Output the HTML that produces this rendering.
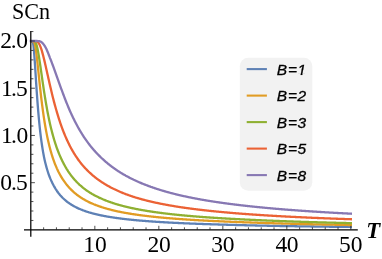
<!DOCTYPE html>
<html><head><meta charset="utf-8"><style>
html,body{margin:0;padding:0;background:#fff;}
body{width:382px;height:259px;position:relative;overflow:hidden;font-family:"Liberation Sans",sans-serif;}
</style></head><body>
<svg width="382" height="259" viewBox="0 0 382 259" style="position:absolute;left:0;top:0;will-change:transform">
<rect x="239.8" y="57.8" width="72.5" height="133" rx="8.5" ry="8.5" fill="#F2F2F2"/>
<clipPath id="cl"><rect x="0" y="40.7" width="382" height="219"/></clipPath>
<path d="M30.83 41.00 L31.36 41.00 L31.90 41.01 L32.43 41.24 L32.96 42.59 L33.50 45.94 L34.03 51.38 L34.56 58.42 L35.10 66.41 L35.63 74.76 L36.16 83.07 L36.70 91.07 L37.23 98.63 L37.76 105.68 L38.30 112.20 L38.83 118.22 L39.36 123.76 L39.90 128.86 L40.43 133.54 L40.96 137.86 L41.50 141.85 L42.03 145.53 L42.56 148.94 L43.10 152.10 L43.63 155.04 L44.16 157.67 L44.70 160.13 L45.23 162.43 L45.76 164.58 L46.30 166.60 L46.83 168.50 L47.36 170.29 L47.90 171.98 L48.43 173.57 L48.96 175.07 L49.50 176.50 L50.03 177.85 L50.56 179.13 L51.10 180.35 L51.63 181.51 L52.16 182.61 L52.70 183.67 L53.23 184.67 L53.76 185.69 L54.30 186.67 L54.83 187.60 L55.36 188.50 L55.90 189.36 L56.43 190.18 L56.96 190.98 L57.50 191.74 L58.03 192.47 L58.56 193.18 L59.10 193.86 L59.63 194.51 L60.16 195.14 L60.70 195.75 L61.23 196.34 L61.76 196.91 L62.30 197.46 L62.83 198.00 L63.36 198.51 L63.90 199.02 L64.43 199.50 L64.96 199.97 L65.50 200.43 L66.03 200.87 L66.56 201.30 L67.10 201.72 L67.63 202.13 L68.16 202.52 L68.70 202.91 L69.23 203.28 L69.76 203.64 L70.30 204.00 L70.83 204.34 L71.36 204.67 L71.90 205.00 L72.43 205.32 L72.96 205.63 L73.50 205.93 L74.03 206.23 L74.56 206.52 L75.10 206.80 L75.63 207.07 L76.16 207.34 L76.70 207.60 L77.23 207.86 L77.76 208.11 L78.30 208.36 L78.83 208.59 L79.36 208.83 L79.90 209.06 L80.43 209.28 L80.96 209.50 L81.50 209.72 L82.03 209.93 L82.56 210.13 L83.10 210.34 L83.63 210.53 L84.16 210.73 L84.70 210.92 L85.23 211.11 L85.76 211.29 L86.30 211.47 L86.83 211.64 L87.36 211.82 L87.90 211.99 L88.43 212.15 L88.96 212.32 L89.50 212.48 L90.03 212.64 L90.56 212.79 L91.10 212.94 L91.63 213.09 L92.16 213.24 L92.70 213.38 L93.23 213.53 L93.76 213.67 L94.30 213.80 L94.83 213.94 L95.36 214.07 L95.90 214.20 L96.43 214.33 L96.96 214.45 L97.50 214.58 L98.03 214.70 L98.56 214.82 L99.10 214.94 L99.63 215.05 L100.16 215.17 L100.70 215.28 L101.23 215.39 L101.76 215.50 L102.30 215.61 L102.83 215.71 L103.36 215.82 L103.90 215.92 L104.43 216.02 L104.96 216.12 L105.50 216.22 L106.03 216.32 L106.56 216.42 L107.10 216.51 L107.63 216.60 L108.16 216.70 L108.70 216.79 L109.23 216.88 L109.76 216.96 L110.30 217.05 L110.83 217.14 L111.36 217.22 L111.90 217.31 L112.43 217.39 L112.96 217.47 L113.50 217.55 L114.03 217.63 L114.56 217.71 L115.10 217.79 L115.63 217.86 L116.16 217.94 L116.70 218.01 L117.23 218.09 L117.76 218.16 L118.30 218.23 L118.83 218.30 L119.36 218.37 L119.90 218.44 L120.43 218.51 L120.96 218.58 L121.50 218.64 L122.03 218.71 L122.56 218.78 L123.10 218.84 L123.63 218.90 L124.16 218.97 L124.70 219.03 L125.23 219.09 L125.76 219.15 L126.30 219.21 L126.83 219.27 L127.36 219.33 L127.90 219.39 L128.43 219.45 L128.96 219.51 L129.50 219.56 L130.03 219.62 L130.56 219.67 L131.10 219.73 L131.63 219.78 L132.16 219.84 L132.70 219.89 L133.23 219.94 L133.76 219.99 L134.30 220.04 L134.83 220.10 L135.36 220.15 L135.90 220.20 L136.43 220.25 L136.96 220.29 L137.50 220.34 L138.03 220.39 L138.56 220.44 L139.10 220.48 L139.63 220.53 L140.16 220.58 L140.70 220.62 L141.23 220.67 L141.76 220.71 L142.30 220.76 L142.83 220.80 L143.36 220.84 L143.90 220.89 L144.43 220.93 L144.96 220.97 L145.50 221.01 L146.03 221.06 L146.56 221.10 L147.10 221.14 L147.63 221.18 L148.16 221.22 L148.70 221.26 L149.23 221.30 L149.76 221.34 L150.30 221.37 L150.83 221.41 L151.36 221.45 L151.90 221.49 L152.43 221.52 L152.96 221.56 L153.50 221.60 L154.03 221.63 L154.56 221.67 L155.10 221.71 L155.63 221.74 L156.16 221.78 L156.70 221.81 L157.23 221.85 L157.76 221.88 L158.30 221.91 L158.83 221.95 L159.36 221.98 L159.90 222.01 L160.43 222.05 L160.96 222.08 L161.50 222.11 L162.03 222.14 L162.56 222.17 L163.10 222.21 L163.63 222.24 L164.16 222.27 L164.70 222.30 L165.23 222.33 L165.76 222.36 L166.30 222.39 L166.83 222.42 L167.36 222.45 L167.90 222.48 L168.43 222.51 L168.96 222.54 L169.50 222.56 L170.03 222.59 L170.56 222.62 L171.10 222.65 L171.63 222.68 L172.16 222.70 L172.70 222.73 L173.23 222.76 L173.76 222.79 L174.30 222.81 L174.83 222.84 L175.36 222.86 L175.90 222.89 L176.43 222.92 L176.96 222.94 L177.50 222.97 L178.03 222.99 L178.56 223.02 L179.10 223.04 L179.63 223.07 L180.16 223.09 L180.70 223.12 L181.23 223.14 L181.76 223.17 L182.30 223.19 L182.83 223.21 L183.36 223.24 L183.90 223.26 L184.43 223.28 L184.96 223.31 L185.50 223.33 L186.03 223.35 L186.56 223.38 L187.10 223.40 L187.63 223.42 L188.16 223.44 L188.70 223.47 L189.23 223.49 L189.76 223.51 L190.30 223.53 L190.83 223.55 L191.36 223.57 L191.90 223.59 L192.43 223.62 L192.96 223.64 L193.50 223.66 L194.03 223.68 L194.56 223.70 L195.10 223.72 L195.63 223.74 L196.16 223.76 L196.70 223.78 L197.23 223.80 L197.76 223.82 L198.30 223.84 L198.83 223.86 L199.36 223.88 L199.90 223.90 L200.43 223.92 L200.96 223.93 L201.50 223.95 L202.03 223.97 L202.56 223.99 L203.10 224.01 L203.63 224.03 L204.16 224.05 L204.70 224.06 L205.23 224.08 L205.76 224.10 L206.30 224.12 L206.83 224.14 L207.36 224.15 L207.90 224.17 L208.43 224.19 L208.96 224.21 L209.50 224.22 L210.03 224.24 L210.56 224.26 L211.10 224.27 L211.63 224.29 L212.16 224.31 L212.70 224.32 L213.23 224.34 L213.76 224.36 L214.30 224.37 L214.83 224.39 L215.36 224.41 L215.90 224.42 L216.43 224.44 L216.96 224.45 L217.50 224.47 L218.03 224.49 L218.56 224.50 L219.10 224.52 L219.63 224.53 L220.16 224.55 L220.70 224.56 L221.23 224.58 L221.76 224.59 L222.30 224.61 L222.83 224.62 L223.36 224.64 L223.90 224.66 L224.43 224.67 L224.96 224.69 L225.50 224.70 L226.03 224.72 L226.56 224.74 L227.10 224.75 L227.63 224.77 L228.16 224.78 L228.70 224.80 L229.23 224.81 L229.76 224.83 L230.30 224.84 L230.83 224.86 L231.36 224.87 L231.90 224.89 L232.43 224.90 L232.96 224.92 L233.50 224.93 L234.03 224.95 L234.56 224.96 L235.10 224.98 L235.63 224.99 L236.16 225.01 L236.70 225.02 L237.23 225.03 L237.76 225.05 L238.30 225.06 L238.83 225.08 L239.36 225.09 L239.90 225.10 L240.43 225.12 L240.96 225.13 L241.50 225.15 L242.03 225.16 L242.56 225.17 L243.10 225.19 L243.63 225.20 L244.16 225.21 L244.70 225.23 L245.23 225.24 L245.76 225.25 L246.30 225.27 L246.83 225.28 L247.36 225.29 L247.90 225.30 L248.43 225.32 L248.96 225.33 L249.50 225.34 L250.03 225.36 L250.56 225.37 L251.10 225.38 L251.63 225.39 L252.16 225.40 L252.70 225.42 L253.23 225.43 L253.76 225.44 L254.30 225.45 L254.83 225.47 L255.36 225.48 L255.90 225.49 L256.43 225.50 L256.96 225.51 L257.50 225.53 L258.03 225.54 L258.56 225.55 L259.10 225.56 L259.63 225.57 L260.16 225.58 L260.70 225.59 L261.23 225.61 L261.76 225.62 L262.30 225.63 L262.83 225.64 L263.36 225.65 L263.90 225.66 L264.43 225.67 L264.96 225.68 L265.50 225.70 L266.03 225.71 L266.56 225.72 L267.10 225.73 L267.63 225.74 L268.16 225.75 L268.70 225.76 L269.23 225.77 L269.76 225.78 L270.30 225.79 L270.83 225.80 L271.36 225.81 L271.90 225.82 L272.43 225.83 L272.96 225.84 L273.50 225.86 L274.03 225.87 L274.56 225.88 L275.10 225.89 L275.63 225.90 L276.16 225.91 L276.70 225.92 L277.23 225.93 L277.76 225.94 L278.30 225.95 L278.83 225.96 L279.36 225.97 L279.90 225.98 L280.43 225.98 L280.96 225.99 L281.50 226.00 L282.03 226.01 L282.56 226.02 L283.10 226.03 L283.63 226.04 L284.16 226.05 L284.70 226.06 L285.23 226.07 L285.76 226.08 L286.30 226.09 L286.83 226.10 L287.36 226.11 L287.90 226.12 L288.43 226.13 L288.96 226.13 L289.50 226.14 L290.03 226.15 L290.56 226.16 L291.10 226.17 L291.63 226.18 L292.16 226.19 L292.70 226.20 L293.23 226.21 L293.76 226.22 L294.30 226.22 L294.83 226.23 L295.36 226.24 L295.90 226.25 L296.43 226.26 L296.96 226.27 L297.50 226.28 L298.03 226.28 L298.56 226.29 L299.10 226.30 L299.63 226.31 L300.16 226.32 L300.70 226.33 L301.23 226.33 L301.76 226.34 L302.30 226.35 L302.83 226.36 L303.36 226.37 L303.90 226.38 L304.43 226.38 L304.96 226.39 L305.50 226.40 L306.03 226.41 L306.56 226.42 L307.10 226.42 L307.63 226.43 L308.16 226.44 L308.70 226.45 L309.23 226.45 L309.76 226.46 L310.30 226.47 L310.83 226.48 L311.36 226.49 L311.90 226.49 L312.43 226.50 L312.96 226.51 L313.50 226.52 L314.03 226.52 L314.56 226.53 L315.10 226.54 L315.63 226.55 L316.16 226.55 L316.70 226.56 L317.23 226.57 L317.76 226.58 L318.30 226.58 L318.83 226.59 L319.36 226.60 L319.90 226.60 L320.43 226.61 L320.96 226.62 L321.50 226.63 L322.03 226.63 L322.56 226.64 L323.10 226.65 L323.63 226.65 L324.16 226.66 L324.70 226.67 L325.23 226.68 L325.76 226.68 L326.30 226.69 L326.83 226.70 L327.36 226.70 L327.90 226.71 L328.43 226.72 L328.96 226.72 L329.50 226.73 L330.03 226.74 L330.56 226.74 L331.10 226.75 L331.63 226.76 L332.16 226.76 L332.70 226.77 L333.23 226.78 L333.76 226.78 L334.30 226.79 L334.83 226.80 L335.36 226.80 L335.90 226.81 L336.43 226.82 L336.96 226.82 L337.50 226.83 L338.03 226.84 L338.56 226.84 L339.10 226.85 L339.63 226.86 L340.16 226.86 L340.70 226.87 L341.23 226.87 L341.76 226.88 L342.30 226.89 L342.83 226.89 L343.36 226.90 L343.90 226.91 L344.43 226.91 L344.96 226.92 L345.50 226.92 L346.03 226.93 L346.56 226.94 L347.10 226.94 L347.63 226.95 L348.16 226.95 L348.70 226.96 L349.23 226.97 L349.76 226.97 L350.30 226.98 L350.83 226.98 L351.98 227.00" fill="none" stroke="#5E81B5" stroke-width="2.3" stroke-linejoin="round" stroke-linecap="butt" clip-path="url(#cl)"/>
<path d="M30.83 41.00 L31.36 41.00 L31.90 41.00 L32.43 41.00 L32.96 41.04 L33.50 41.26 L34.03 41.92 L34.56 43.24 L35.10 45.35 L35.63 48.27 L36.16 51.89 L36.70 56.09 L37.23 60.72 L37.76 65.62 L38.30 70.67 L38.83 75.77 L39.36 80.84 L39.90 85.81 L40.43 90.64 L40.96 95.31 L41.50 99.80 L42.03 104.10 L42.56 108.20 L43.10 112.11 L43.63 115.83 L44.16 119.38 L44.70 122.74 L45.23 125.94 L45.76 128.98 L46.30 131.87 L46.83 134.62 L47.36 137.24 L47.90 139.73 L48.43 142.10 L48.96 144.36 L49.50 146.52 L50.03 148.58 L50.56 150.54 L51.10 152.42 L51.63 154.22 L52.16 155.94 L52.70 157.59 L53.23 159.17 L53.76 160.68 L54.30 162.14 L54.83 163.54 L55.36 164.88 L55.90 166.17 L56.43 167.42 L56.96 168.62 L57.50 169.77 L58.03 170.88 L58.56 171.96 L59.10 173.00 L59.63 174.00 L60.16 174.96 L60.70 175.90 L61.23 176.81 L61.76 177.68 L62.30 178.53 L62.83 179.35 L63.36 180.16 L63.90 180.95 L64.43 181.71 L64.96 182.45 L65.50 183.17 L66.03 183.87 L66.56 184.55 L67.10 185.21 L67.63 185.85 L68.16 186.48 L68.70 187.09 L69.23 187.68 L69.76 188.25 L70.30 188.81 L70.83 189.36 L71.36 189.89 L71.90 190.41 L72.43 190.92 L72.96 191.41 L73.50 191.89 L74.03 192.37 L74.56 192.82 L75.10 193.27 L75.63 193.71 L76.16 194.14 L76.70 194.56 L77.23 194.97 L77.76 195.37 L78.30 195.76 L78.83 196.14 L79.36 196.52 L79.90 196.89 L80.43 197.25 L80.96 197.60 L81.50 197.94 L82.03 198.28 L82.56 198.61 L83.10 198.93 L83.63 199.25 L84.16 199.56 L84.70 199.87 L85.23 200.17 L85.76 200.46 L86.30 200.75 L86.83 201.04 L87.36 201.32 L87.90 201.59 L88.43 201.86 L88.96 202.11 L89.50 202.37 L90.03 202.61 L90.56 202.86 L91.10 203.10 L91.63 203.33 L92.16 203.56 L92.70 203.79 L93.23 204.02 L93.76 204.24 L94.30 204.45 L94.83 204.66 L95.36 204.87 L95.90 205.08 L96.43 205.28 L96.96 205.48 L97.50 205.68 L98.03 205.87 L98.56 206.06 L99.10 206.25 L99.63 206.44 L100.16 206.62 L100.70 206.80 L101.23 206.97 L101.76 207.15 L102.30 207.32 L102.83 207.49 L103.36 207.65 L103.90 207.82 L104.43 207.98 L104.96 208.14 L105.50 208.30 L106.03 208.45 L106.56 208.61 L107.10 208.76 L107.63 208.91 L108.16 209.05 L108.70 209.20 L109.23 209.34 L109.76 209.48 L110.30 209.62 L110.83 209.76 L111.36 209.89 L111.90 210.03 L112.43 210.16 L112.96 210.29 L113.50 210.42 L114.03 210.55 L114.56 210.67 L115.10 210.80 L115.63 210.92 L116.16 211.04 L116.70 211.16 L117.23 211.28 L117.76 211.39 L118.30 211.51 L118.83 211.62 L119.36 211.74 L119.90 211.85 L120.43 211.96 L120.96 212.06 L121.50 212.17 L122.03 212.27 L122.56 212.37 L123.10 212.47 L123.63 212.57 L124.16 212.67 L124.70 212.76 L125.23 212.86 L125.76 212.95 L126.30 213.05 L126.83 213.14 L127.36 213.23 L127.90 213.32 L128.43 213.41 L128.96 213.50 L129.50 213.59 L130.03 213.68 L130.56 213.76 L131.10 213.85 L131.63 213.93 L132.16 214.02 L132.70 214.10 L133.23 214.18 L133.76 214.26 L134.30 214.34 L134.83 214.42 L135.36 214.50 L135.90 214.58 L136.43 214.65 L136.96 214.73 L137.50 214.80 L138.03 214.88 L138.56 214.95 L139.10 215.02 L139.63 215.10 L140.16 215.17 L140.70 215.24 L141.23 215.31 L141.76 215.38 L142.30 215.45 L142.83 215.52 L143.36 215.58 L143.90 215.65 L144.43 215.72 L144.96 215.78 L145.50 215.85 L146.03 215.91 L146.56 215.98 L147.10 216.04 L147.63 216.10 L148.16 216.16 L148.70 216.23 L149.23 216.29 L149.76 216.35 L150.30 216.41 L150.83 216.47 L151.36 216.53 L151.90 216.58 L152.43 216.64 L152.96 216.70 L153.50 216.76 L154.03 216.81 L154.56 216.87 L155.10 216.92 L155.63 216.98 L156.16 217.03 L156.70 217.09 L157.23 217.14 L157.76 217.19 L158.30 217.25 L158.83 217.30 L159.36 217.35 L159.90 217.40 L160.43 217.45 L160.96 217.50 L161.50 217.55 L162.03 217.60 L162.56 217.65 L163.10 217.70 L163.63 217.75 L164.16 217.80 L164.70 217.85 L165.23 217.89 L165.76 217.94 L166.30 217.99 L166.83 218.03 L167.36 218.08 L167.90 218.12 L168.43 218.17 L168.96 218.21 L169.50 218.26 L170.03 218.30 L170.56 218.35 L171.10 218.39 L171.63 218.43 L172.16 218.48 L172.70 218.52 L173.23 218.56 L173.76 218.60 L174.30 218.64 L174.83 218.69 L175.36 218.73 L175.90 218.77 L176.43 218.81 L176.96 218.85 L177.50 218.89 L178.03 218.93 L178.56 218.96 L179.10 219.00 L179.63 219.04 L180.16 219.08 L180.70 219.12 L181.23 219.16 L181.76 219.19 L182.30 219.23 L182.83 219.27 L183.36 219.30 L183.90 219.34 L184.43 219.38 L184.96 219.41 L185.50 219.45 L186.03 219.48 L186.56 219.52 L187.10 219.55 L187.63 219.59 L188.16 219.62 L188.70 219.66 L189.23 219.69 L189.76 219.72 L190.30 219.76 L190.83 219.79 L191.36 219.82 L191.90 219.85 L192.43 219.89 L192.96 219.92 L193.50 219.95 L194.03 219.98 L194.56 220.02 L195.10 220.05 L195.63 220.08 L196.16 220.11 L196.70 220.14 L197.23 220.17 L197.76 220.20 L198.30 220.23 L198.83 220.26 L199.36 220.29 L199.90 220.32 L200.43 220.35 L200.96 220.38 L201.50 220.41 L202.03 220.44 L202.56 220.47 L203.10 220.49 L203.63 220.52 L204.16 220.55 L204.70 220.58 L205.23 220.61 L205.76 220.63 L206.30 220.66 L206.83 220.69 L207.36 220.72 L207.90 220.74 L208.43 220.77 L208.96 220.80 L209.50 220.82 L210.03 220.85 L210.56 220.87 L211.10 220.90 L211.63 220.93 L212.16 220.95 L212.70 220.98 L213.23 221.00 L213.76 221.03 L214.30 221.05 L214.83 221.08 L215.36 221.10 L215.90 221.13 L216.43 221.15 L216.96 221.18 L217.50 221.20 L218.03 221.22 L218.56 221.25 L219.10 221.27 L219.63 221.30 L220.16 221.32 L220.70 221.34 L221.23 221.37 L221.76 221.39 L222.30 221.41 L222.83 221.43 L223.36 221.46 L223.90 221.48 L224.43 221.50 L224.96 221.53 L225.50 221.55 L226.03 221.57 L226.56 221.60 L227.10 221.62 L227.63 221.64 L228.16 221.66 L228.70 221.69 L229.23 221.71 L229.76 221.73 L230.30 221.75 L230.83 221.77 L231.36 221.80 L231.90 221.82 L232.43 221.84 L232.96 221.86 L233.50 221.88 L234.03 221.90 L234.56 221.92 L235.10 221.94 L235.63 221.96 L236.16 221.99 L236.70 222.01 L237.23 222.03 L237.76 222.05 L238.30 222.07 L238.83 222.09 L239.36 222.11 L239.90 222.13 L240.43 222.15 L240.96 222.17 L241.50 222.19 L242.03 222.21 L242.56 222.23 L243.10 222.24 L243.63 222.26 L244.16 222.28 L244.70 222.30 L245.23 222.32 L245.76 222.34 L246.30 222.36 L246.83 222.38 L247.36 222.40 L247.90 222.41 L248.43 222.43 L248.96 222.45 L249.50 222.47 L250.03 222.49 L250.56 222.50 L251.10 222.52 L251.63 222.54 L252.16 222.56 L252.70 222.58 L253.23 222.59 L253.76 222.61 L254.30 222.63 L254.83 222.65 L255.36 222.66 L255.90 222.68 L256.43 222.70 L256.96 222.72 L257.50 222.74 L258.03 222.76 L258.56 222.78 L259.10 222.79 L259.63 222.81 L260.16 222.83 L260.70 222.85 L261.23 222.87 L261.76 222.88 L262.30 222.90 L262.83 222.92 L263.36 222.94 L263.90 222.95 L264.43 222.97 L264.96 222.99 L265.50 223.01 L266.03 223.02 L266.56 223.04 L267.10 223.06 L267.63 223.07 L268.16 223.09 L268.70 223.11 L269.23 223.12 L269.76 223.14 L270.30 223.16 L270.83 223.17 L271.36 223.19 L271.90 223.21 L272.43 223.22 L272.96 223.24 L273.50 223.26 L274.03 223.27 L274.56 223.29 L275.10 223.30 L275.63 223.32 L276.16 223.34 L276.70 223.35 L277.23 223.37 L277.76 223.38 L278.30 223.40 L278.83 223.41 L279.36 223.43 L279.90 223.44 L280.43 223.46 L280.96 223.47 L281.50 223.49 L282.03 223.50 L282.56 223.52 L283.10 223.53 L283.63 223.55 L284.16 223.56 L284.70 223.58 L285.23 223.59 L285.76 223.61 L286.30 223.62 L286.83 223.64 L287.36 223.65 L287.90 223.67 L288.43 223.68 L288.96 223.69 L289.50 223.71 L290.03 223.72 L290.56 223.74 L291.10 223.75 L291.63 223.76 L292.16 223.78 L292.70 223.79 L293.23 223.81 L293.76 223.82 L294.30 223.83 L294.83 223.85 L295.36 223.86 L295.90 223.87 L296.43 223.89 L296.96 223.90 L297.50 223.91 L298.03 223.93 L298.56 223.94 L299.10 223.95 L299.63 223.97 L300.16 223.98 L300.70 223.99 L301.23 224.01 L301.76 224.02 L302.30 224.03 L302.83 224.05 L303.36 224.06 L303.90 224.07 L304.43 224.08 L304.96 224.10 L305.50 224.11 L306.03 224.12 L306.56 224.13 L307.10 224.15 L307.63 224.16 L308.16 224.17 L308.70 224.18 L309.23 224.20 L309.76 224.21 L310.30 224.22 L310.83 224.23 L311.36 224.24 L311.90 224.26 L312.43 224.27 L312.96 224.28 L313.50 224.29 L314.03 224.30 L314.56 224.32 L315.10 224.33 L315.63 224.34 L316.16 224.35 L316.70 224.36 L317.23 224.37 L317.76 224.38 L318.30 224.40 L318.83 224.41 L319.36 224.42 L319.90 224.43 L320.43 224.44 L320.96 224.45 L321.50 224.46 L322.03 224.48 L322.56 224.49 L323.10 224.50 L323.63 224.51 L324.16 224.52 L324.70 224.53 L325.23 224.54 L325.76 224.55 L326.30 224.56 L326.83 224.57 L327.36 224.59 L327.90 224.60 L328.43 224.61 L328.96 224.62 L329.50 224.63 L330.03 224.64 L330.56 224.65 L331.10 224.66 L331.63 224.67 L332.16 224.68 L332.70 224.69 L333.23 224.70 L333.76 224.71 L334.30 224.72 L334.83 224.73 L335.36 224.74 L335.90 224.75 L336.43 224.76 L336.96 224.77 L337.50 224.78 L338.03 224.79 L338.56 224.80 L339.10 224.81 L339.63 224.82 L340.16 224.83 L340.70 224.84 L341.23 224.85 L341.76 224.86 L342.30 224.87 L342.83 224.88 L343.36 224.89 L343.90 224.90 L344.43 224.91 L344.96 224.92 L345.50 224.93 L346.03 224.94 L346.56 224.95 L347.10 224.96 L347.63 224.97 L348.16 224.98 L348.70 224.99 L349.23 225.00 L349.76 225.01 L350.30 225.02 L350.83 225.02 L351.98 225.04" fill="none" stroke="#E19C24" stroke-width="2.3" stroke-linejoin="round" stroke-linecap="butt" clip-path="url(#cl)"/>
<path d="M30.83 41.00 L31.36 41.00 L31.90 41.00 L32.43 41.00 L32.96 41.00 L33.50 41.02 L34.03 41.09 L34.56 41.31 L35.10 41.79 L35.63 42.60 L36.16 43.83 L36.70 45.48 L37.23 47.57 L37.76 50.05 L38.30 52.88 L38.83 56.00 L39.36 59.35 L39.90 62.86 L40.43 66.50 L40.96 70.20 L41.50 73.93 L42.03 77.65 L42.56 81.35 L43.10 84.99 L43.63 88.56 L44.16 92.05 L44.70 95.44 L45.23 98.74 L45.76 101.94 L46.30 105.04 L46.83 108.03 L47.36 110.92 L47.90 113.70 L48.43 116.39 L48.96 118.98 L49.50 121.47 L50.03 123.88 L50.56 126.19 L51.10 128.42 L51.63 130.57 L52.16 132.65 L52.70 134.64 L53.23 136.57 L53.76 138.43 L54.30 140.22 L54.83 141.95 L55.36 143.62 L55.90 145.23 L56.43 146.79 L56.96 148.30 L57.50 149.76 L58.03 151.17 L58.56 152.53 L59.10 153.85 L59.63 155.13 L60.16 156.37 L60.70 157.57 L61.23 158.73 L61.76 159.86 L62.30 160.95 L62.83 162.02 L63.36 163.07 L63.90 164.09 L64.43 165.08 L64.96 166.04 L65.50 166.97 L66.03 167.88 L66.56 168.77 L67.10 169.63 L67.63 170.47 L68.16 171.29 L68.70 172.08 L69.23 172.86 L69.76 173.61 L70.30 174.35 L70.83 175.07 L71.36 175.77 L71.90 176.45 L72.43 177.12 L72.96 177.77 L73.50 178.41 L74.03 179.03 L74.56 179.64 L75.10 180.24 L75.63 180.82 L76.16 181.39 L76.70 181.94 L77.23 182.48 L77.76 183.02 L78.30 183.54 L78.83 184.05 L79.36 184.55 L79.90 185.03 L80.43 185.51 L80.96 185.98 L81.50 186.44 L82.03 186.89 L82.56 187.33 L83.10 187.77 L83.63 188.19 L84.16 188.61 L84.70 189.01 L85.23 189.42 L85.76 189.81 L86.30 190.20 L86.83 190.57 L87.36 190.95 L87.90 191.31 L88.43 191.67 L88.96 192.02 L89.50 192.36 L90.03 192.69 L90.56 193.02 L91.10 193.34 L91.63 193.66 L92.16 193.97 L92.70 194.27 L93.23 194.58 L93.76 194.87 L94.30 195.16 L94.83 195.45 L95.36 195.73 L95.90 196.01 L96.43 196.28 L96.96 196.55 L97.50 196.82 L98.03 197.08 L98.56 197.34 L99.10 197.59 L99.63 197.84 L100.16 198.08 L100.70 198.33 L101.23 198.57 L101.76 198.80 L102.30 199.03 L102.83 199.26 L103.36 199.49 L103.90 199.71 L104.43 199.93 L104.96 200.14 L105.50 200.35 L106.03 200.56 L106.56 200.77 L107.10 200.97 L107.63 201.18 L108.16 201.38 L108.70 201.57 L109.23 201.76 L109.76 201.96 L110.30 202.14 L110.83 202.33 L111.36 202.51 L111.90 202.69 L112.43 202.87 L112.96 203.05 L113.50 203.22 L114.03 203.40 L114.56 203.57 L115.10 203.73 L115.63 203.90 L116.16 204.06 L116.70 204.23 L117.23 204.39 L117.76 204.54 L118.30 204.70 L118.83 204.86 L119.36 205.01 L119.90 205.16 L120.43 205.31 L120.96 205.45 L121.50 205.59 L122.03 205.74 L122.56 205.87 L123.10 206.01 L123.63 206.15 L124.16 206.28 L124.70 206.42 L125.23 206.55 L125.76 206.68 L126.30 206.81 L126.83 206.94 L127.36 207.06 L127.90 207.19 L128.43 207.31 L128.96 207.43 L129.50 207.55 L130.03 207.67 L130.56 207.79 L131.10 207.91 L131.63 208.02 L132.16 208.14 L132.70 208.25 L133.23 208.36 L133.76 208.47 L134.30 208.58 L134.83 208.69 L135.36 208.80 L135.90 208.91 L136.43 209.01 L136.96 209.12 L137.50 209.22 L138.03 209.32 L138.56 209.42 L139.10 209.52 L139.63 209.62 L140.16 209.72 L140.70 209.82 L141.23 209.92 L141.76 210.01 L142.30 210.11 L142.83 210.20 L143.36 210.29 L143.90 210.39 L144.43 210.48 L144.96 210.57 L145.50 210.66 L146.03 210.75 L146.56 210.84 L147.10 210.92 L147.63 211.01 L148.16 211.09 L148.70 211.18 L149.23 211.26 L149.76 211.35 L150.30 211.43 L150.83 211.51 L151.36 211.59 L151.90 211.67 L152.43 211.75 L152.96 211.83 L153.50 211.91 L154.03 211.99 L154.56 212.06 L155.10 212.14 L155.63 212.22 L156.16 212.29 L156.70 212.36 L157.23 212.44 L157.76 212.51 L158.30 212.58 L158.83 212.66 L159.36 212.73 L159.90 212.80 L160.43 212.87 L160.96 212.94 L161.50 213.01 L162.03 213.07 L162.56 213.14 L163.10 213.21 L163.63 213.27 L164.16 213.34 L164.70 213.41 L165.23 213.47 L165.76 213.53 L166.30 213.60 L166.83 213.66 L167.36 213.72 L167.90 213.79 L168.43 213.85 L168.96 213.91 L169.50 213.97 L170.03 214.03 L170.56 214.09 L171.10 214.15 L171.63 214.21 L172.16 214.27 L172.70 214.33 L173.23 214.38 L173.76 214.44 L174.30 214.50 L174.83 214.56 L175.36 214.61 L175.90 214.67 L176.43 214.72 L176.96 214.78 L177.50 214.83 L178.03 214.88 L178.56 214.94 L179.10 214.99 L179.63 215.04 L180.16 215.10 L180.70 215.15 L181.23 215.20 L181.76 215.25 L182.30 215.30 L182.83 215.35 L183.36 215.40 L183.90 215.45 L184.43 215.50 L184.96 215.55 L185.50 215.60 L186.03 215.65 L186.56 215.70 L187.10 215.74 L187.63 215.79 L188.16 215.84 L188.70 215.89 L189.23 215.93 L189.76 215.98 L190.30 216.02 L190.83 216.07 L191.36 216.11 L191.90 216.16 L192.43 216.20 L192.96 216.25 L193.50 216.29 L194.03 216.34 L194.56 216.38 L195.10 216.42 L195.63 216.46 L196.16 216.51 L196.70 216.55 L197.23 216.59 L197.76 216.63 L198.30 216.67 L198.83 216.72 L199.36 216.76 L199.90 216.80 L200.43 216.84 L200.96 216.88 L201.50 216.92 L202.03 216.96 L202.56 217.00 L203.10 217.04 L203.63 217.07 L204.16 217.11 L204.70 217.15 L205.23 217.19 L205.76 217.23 L206.30 217.27 L206.83 217.30 L207.36 217.34 L207.90 217.38 L208.43 217.41 L208.96 217.45 L209.50 217.49 L210.03 217.52 L210.56 217.56 L211.10 217.59 L211.63 217.63 L212.16 217.66 L212.70 217.70 L213.23 217.73 L213.76 217.77 L214.30 217.80 L214.83 217.84 L215.36 217.87 L215.90 217.91 L216.43 217.94 L216.96 217.97 L217.50 218.01 L218.03 218.04 L218.56 218.07 L219.10 218.10 L219.63 218.14 L220.16 218.17 L220.70 218.20 L221.23 218.23 L221.76 218.26 L222.30 218.30 L222.83 218.33 L223.36 218.36 L223.90 218.39 L224.43 218.42 L224.96 218.45 L225.50 218.49 L226.03 218.52 L226.56 218.55 L227.10 218.58 L227.63 218.61 L228.16 218.64 L228.70 218.67 L229.23 218.70 L229.76 218.73 L230.30 218.76 L230.83 218.79 L231.36 218.82 L231.90 218.85 L232.43 218.88 L232.96 218.91 L233.50 218.94 L234.03 218.97 L234.56 219.00 L235.10 219.02 L235.63 219.05 L236.16 219.08 L236.70 219.11 L237.23 219.14 L237.76 219.16 L238.30 219.19 L238.83 219.22 L239.36 219.25 L239.90 219.27 L240.43 219.30 L240.96 219.33 L241.50 219.35 L242.03 219.38 L242.56 219.41 L243.10 219.43 L243.63 219.46 L244.16 219.49 L244.70 219.51 L245.23 219.54 L245.76 219.56 L246.30 219.59 L246.83 219.61 L247.36 219.64 L247.90 219.67 L248.43 219.69 L248.96 219.72 L249.50 219.74 L250.03 219.76 L250.56 219.79 L251.10 219.81 L251.63 219.84 L252.16 219.86 L252.70 219.89 L253.23 219.91 L253.76 219.93 L254.30 219.96 L254.83 219.98 L255.36 220.01 L255.90 220.03 L256.43 220.06 L256.96 220.08 L257.50 220.11 L258.03 220.13 L258.56 220.15 L259.10 220.18 L259.63 220.20 L260.16 220.23 L260.70 220.25 L261.23 220.27 L261.76 220.30 L262.30 220.32 L262.83 220.34 L263.36 220.37 L263.90 220.39 L264.43 220.41 L264.96 220.44 L265.50 220.46 L266.03 220.48 L266.56 220.50 L267.10 220.53 L267.63 220.55 L268.16 220.57 L268.70 220.59 L269.23 220.62 L269.76 220.64 L270.30 220.66 L270.83 220.68 L271.36 220.70 L271.90 220.72 L272.43 220.75 L272.96 220.77 L273.50 220.79 L274.03 220.81 L274.56 220.83 L275.10 220.85 L275.63 220.87 L276.16 220.89 L276.70 220.91 L277.23 220.94 L277.76 220.96 L278.30 220.98 L278.83 221.00 L279.36 221.02 L279.90 221.04 L280.43 221.06 L280.96 221.08 L281.50 221.10 L282.03 221.12 L282.56 221.14 L283.10 221.16 L283.63 221.18 L284.16 221.20 L284.70 221.22 L285.23 221.24 L285.76 221.25 L286.30 221.27 L286.83 221.29 L287.36 221.31 L287.90 221.33 L288.43 221.35 L288.96 221.37 L289.50 221.39 L290.03 221.41 L290.56 221.43 L291.10 221.44 L291.63 221.46 L292.16 221.48 L292.70 221.50 L293.23 221.52 L293.76 221.54 L294.30 221.55 L294.83 221.57 L295.36 221.59 L295.90 221.61 L296.43 221.62 L296.96 221.64 L297.50 221.66 L298.03 221.68 L298.56 221.70 L299.10 221.71 L299.63 221.73 L300.16 221.75 L300.70 221.76 L301.23 221.78 L301.76 221.80 L302.30 221.82 L302.83 221.83 L303.36 221.85 L303.90 221.87 L304.43 221.88 L304.96 221.90 L305.50 221.92 L306.03 221.93 L306.56 221.95 L307.10 221.97 L307.63 221.98 L308.16 222.00 L308.70 222.02 L309.23 222.03 L309.76 222.05 L310.30 222.06 L310.83 222.08 L311.36 222.10 L311.90 222.11 L312.43 222.13 L312.96 222.14 L313.50 222.16 L314.03 222.17 L314.56 222.19 L315.10 222.21 L315.63 222.22 L316.16 222.24 L316.70 222.25 L317.23 222.27 L317.76 222.28 L318.30 222.30 L318.83 222.31 L319.36 222.33 L319.90 222.34 L320.43 222.36 L320.96 222.37 L321.50 222.39 L322.03 222.40 L322.56 222.42 L323.10 222.43 L323.63 222.45 L324.16 222.46 L324.70 222.48 L325.23 222.49 L325.76 222.50 L326.30 222.52 L326.83 222.53 L327.36 222.55 L327.90 222.56 L328.43 222.58 L328.96 222.59 L329.50 222.60 L330.03 222.62 L330.56 222.63 L331.10 222.65 L331.63 222.66 L332.16 222.67 L332.70 222.69 L333.23 222.70 L333.76 222.72 L334.30 222.73 L334.83 222.74 L335.36 222.76 L335.90 222.77 L336.43 222.78 L336.96 222.80 L337.50 222.81 L338.03 222.82 L338.56 222.84 L339.10 222.85 L339.63 222.86 L340.16 222.88 L340.70 222.89 L341.23 222.90 L341.76 222.91 L342.30 222.93 L342.83 222.94 L343.36 222.95 L343.90 222.97 L344.43 222.98 L344.96 222.99 L345.50 223.00 L346.03 223.02 L346.56 223.03 L347.10 223.04 L347.63 223.05 L348.16 223.07 L348.70 223.08 L349.23 223.09 L349.76 223.10 L350.30 223.12 L350.83 223.13 L351.98 223.16" fill="none" stroke="#8FB032" stroke-width="2.3" stroke-linejoin="round" stroke-linecap="butt" clip-path="url(#cl)"/>
<path d="M30.83 41.00 L31.36 41.00 L31.90 41.00 L32.43 41.00 L32.96 41.00 L33.50 41.00 L34.03 41.00 L34.56 41.01 L35.10 41.02 L35.63 41.07 L36.16 41.16 L36.70 41.34 L37.23 41.62 L37.76 42.04 L38.30 42.61 L38.83 43.34 L39.36 44.26 L39.90 45.36 L40.43 46.63 L40.96 48.08 L41.50 49.69 L42.03 51.44 L42.56 53.33 L43.10 55.33 L43.63 57.43 L44.16 59.61 L44.70 61.87 L45.23 64.17 L45.76 66.52 L46.30 68.90 L46.83 71.29 L47.36 73.69 L47.90 76.09 L48.43 78.48 L48.96 80.85 L49.50 83.21 L50.03 85.54 L50.56 87.83 L51.10 90.10 L51.63 92.33 L52.16 94.52 L52.70 96.67 L53.23 98.78 L53.76 100.85 L54.30 102.87 L54.83 104.85 L55.36 106.79 L55.90 108.69 L56.43 110.54 L56.96 112.38 L57.50 114.18 L58.03 115.94 L58.56 117.65 L59.10 119.33 L59.63 120.96 L60.16 122.56 L60.70 124.12 L61.23 125.64 L61.76 127.13 L62.30 128.58 L62.83 129.99 L63.36 131.38 L63.90 132.73 L64.43 134.05 L64.96 135.33 L65.50 136.59 L66.03 137.82 L66.56 139.02 L67.10 140.19 L67.63 141.34 L68.16 142.46 L68.70 143.56 L69.23 144.63 L69.76 145.68 L70.30 146.70 L70.83 147.71 L71.36 148.69 L71.90 149.65 L72.43 150.59 L72.96 151.51 L73.50 152.41 L74.03 153.29 L74.56 154.15 L75.10 155.00 L75.63 155.83 L76.16 156.64 L76.70 157.43 L77.23 158.21 L77.76 158.98 L78.30 159.73 L78.83 160.46 L79.36 161.18 L79.90 161.89 L80.43 162.58 L80.96 163.26 L81.50 163.93 L82.03 164.59 L82.56 165.22 L83.10 165.83 L83.63 166.44 L84.16 167.04 L84.70 167.62 L85.23 168.20 L85.76 168.76 L86.30 169.32 L86.83 169.87 L87.36 170.41 L87.90 170.93 L88.43 171.45 L88.96 171.96 L89.50 172.47 L90.03 172.96 L90.56 173.45 L91.10 173.93 L91.63 174.40 L92.16 174.86 L92.70 175.32 L93.23 175.77 L93.76 176.21 L94.30 176.64 L94.83 177.07 L95.36 177.50 L95.90 177.91 L96.43 178.32 L96.96 178.73 L97.50 179.12 L98.03 179.52 L98.56 179.90 L99.10 180.28 L99.63 180.66 L100.16 181.03 L100.70 181.39 L101.23 181.75 L101.76 182.11 L102.30 182.46 L102.83 182.80 L103.36 183.14 L103.90 183.48 L104.43 183.81 L104.96 184.13 L105.50 184.46 L106.03 184.78 L106.56 185.09 L107.10 185.40 L107.63 185.70 L108.16 186.00 L108.70 186.30 L109.23 186.59 L109.76 186.88 L110.30 187.17 L110.83 187.45 L111.36 187.73 L111.90 188.00 L112.43 188.27 L112.96 188.54 L113.50 188.80 L114.03 189.07 L114.56 189.32 L115.10 189.58 L115.63 189.83 L116.16 190.08 L116.70 190.33 L117.23 190.57 L117.76 190.81 L118.30 191.05 L118.83 191.28 L119.36 191.51 L119.90 191.74 L120.43 191.97 L120.96 192.20 L121.50 192.42 L122.03 192.64 L122.56 192.85 L123.10 193.07 L123.63 193.28 L124.16 193.49 L124.70 193.70 L125.23 193.90 L125.76 194.11 L126.30 194.31 L126.83 194.51 L127.36 194.70 L127.90 194.90 L128.43 195.09 L128.96 195.28 L129.50 195.47 L130.03 195.66 L130.56 195.84 L131.10 196.02 L131.63 196.21 L132.16 196.38 L132.70 196.56 L133.23 196.74 L133.76 196.91 L134.30 197.08 L134.83 197.24 L135.36 197.41 L135.90 197.57 L136.43 197.73 L136.96 197.89 L137.50 198.05 L138.03 198.21 L138.56 198.36 L139.10 198.52 L139.63 198.67 L140.16 198.82 L140.70 198.97 L141.23 199.12 L141.76 199.27 L142.30 199.41 L142.83 199.56 L143.36 199.70 L143.90 199.84 L144.43 199.98 L144.96 200.12 L145.50 200.26 L146.03 200.39 L146.56 200.53 L147.10 200.66 L147.63 200.80 L148.16 200.93 L148.70 201.06 L149.23 201.19 L149.76 201.31 L150.30 201.44 L150.83 201.57 L151.36 201.69 L151.90 201.81 L152.43 201.94 L152.96 202.06 L153.50 202.18 L154.03 202.30 L154.56 202.42 L155.10 202.53 L155.63 202.65 L156.16 202.76 L156.70 202.88 L157.23 202.99 L157.76 203.10 L158.30 203.22 L158.83 203.33 L159.36 203.44 L159.90 203.54 L160.43 203.65 L160.96 203.76 L161.50 203.86 L162.03 203.97 L162.56 204.07 L163.10 204.18 L163.63 204.28 L164.16 204.38 L164.70 204.48 L165.23 204.58 L165.76 204.68 L166.30 204.78 L166.83 204.88 L167.36 204.97 L167.90 205.07 L168.43 205.17 L168.96 205.26 L169.50 205.35 L170.03 205.45 L170.56 205.54 L171.10 205.63 L171.63 205.72 L172.16 205.81 L172.70 205.90 L173.23 205.99 L173.76 206.08 L174.30 206.17 L174.83 206.26 L175.36 206.35 L175.90 206.43 L176.43 206.52 L176.96 206.61 L177.50 206.69 L178.03 206.77 L178.56 206.86 L179.10 206.94 L179.63 207.02 L180.16 207.10 L180.70 207.19 L181.23 207.27 L181.76 207.35 L182.30 207.42 L182.83 207.50 L183.36 207.58 L183.90 207.66 L184.43 207.74 L184.96 207.81 L185.50 207.89 L186.03 207.96 L186.56 208.04 L187.10 208.11 L187.63 208.19 L188.16 208.26 L188.70 208.33 L189.23 208.41 L189.76 208.48 L190.30 208.55 L190.83 208.62 L191.36 208.69 L191.90 208.76 L192.43 208.83 L192.96 208.90 L193.50 208.97 L194.03 209.03 L194.56 209.10 L195.10 209.17 L195.63 209.23 L196.16 209.30 L196.70 209.37 L197.23 209.43 L197.76 209.50 L198.30 209.56 L198.83 209.63 L199.36 209.69 L199.90 209.75 L200.43 209.81 L200.96 209.88 L201.50 209.94 L202.03 210.00 L202.56 210.06 L203.10 210.12 L203.63 210.18 L204.16 210.24 L204.70 210.30 L205.23 210.36 L205.76 210.42 L206.30 210.48 L206.83 210.54 L207.36 210.59 L207.90 210.65 L208.43 210.71 L208.96 210.77 L209.50 210.82 L210.03 210.88 L210.56 210.93 L211.10 210.99 L211.63 211.04 L212.16 211.10 L212.70 211.15 L213.23 211.21 L213.76 211.26 L214.30 211.31 L214.83 211.37 L215.36 211.42 L215.90 211.47 L216.43 211.52 L216.96 211.58 L217.50 211.63 L218.03 211.68 L218.56 211.73 L219.10 211.78 L219.63 211.83 L220.16 211.88 L220.70 211.93 L221.23 211.98 L221.76 212.03 L222.30 212.08 L222.83 212.12 L223.36 212.17 L223.90 212.22 L224.43 212.27 L224.96 212.32 L225.50 212.37 L226.03 212.42 L226.56 212.46 L227.10 212.51 L227.63 212.56 L228.16 212.61 L228.70 212.65 L229.23 212.70 L229.76 212.75 L230.30 212.79 L230.83 212.84 L231.36 212.88 L231.90 212.93 L232.43 212.97 L232.96 213.02 L233.50 213.06 L234.03 213.11 L234.56 213.15 L235.10 213.19 L235.63 213.24 L236.16 213.28 L236.70 213.32 L237.23 213.37 L237.76 213.41 L238.30 213.45 L238.83 213.49 L239.36 213.54 L239.90 213.58 L240.43 213.62 L240.96 213.66 L241.50 213.70 L242.03 213.74 L242.56 213.78 L243.10 213.82 L243.63 213.86 L244.16 213.90 L244.70 213.94 L245.23 213.98 L245.76 214.02 L246.30 214.06 L246.83 214.10 L247.36 214.14 L247.90 214.18 L248.43 214.22 L248.96 214.26 L249.50 214.29 L250.03 214.33 L250.56 214.37 L251.10 214.41 L251.63 214.44 L252.16 214.48 L252.70 214.52 L253.23 214.56 L253.76 214.59 L254.30 214.63 L254.83 214.67 L255.36 214.70 L255.90 214.74 L256.43 214.77 L256.96 214.81 L257.50 214.84 L258.03 214.88 L258.56 214.91 L259.10 214.95 L259.63 214.98 L260.16 215.02 L260.70 215.05 L261.23 215.09 L261.76 215.12 L262.30 215.16 L262.83 215.19 L263.36 215.22 L263.90 215.26 L264.43 215.29 L264.96 215.32 L265.50 215.36 L266.03 215.39 L266.56 215.42 L267.10 215.45 L267.63 215.49 L268.16 215.52 L268.70 215.55 L269.23 215.58 L269.76 215.62 L270.30 215.65 L270.83 215.68 L271.36 215.71 L271.90 215.74 L272.43 215.77 L272.96 215.80 L273.50 215.83 L274.03 215.87 L274.56 215.90 L275.10 215.93 L275.63 215.96 L276.16 215.99 L276.70 216.02 L277.23 216.05 L277.76 216.08 L278.30 216.11 L278.83 216.14 L279.36 216.17 L279.90 216.20 L280.43 216.22 L280.96 216.25 L281.50 216.28 L282.03 216.31 L282.56 216.34 L283.10 216.37 L283.63 216.40 L284.16 216.43 L284.70 216.45 L285.23 216.48 L285.76 216.51 L286.30 216.54 L286.83 216.57 L287.36 216.59 L287.90 216.62 L288.43 216.65 L288.96 216.68 L289.50 216.70 L290.03 216.73 L290.56 216.76 L291.10 216.78 L291.63 216.81 L292.16 216.84 L292.70 216.86 L293.23 216.89 L293.76 216.92 L294.30 216.94 L294.83 216.97 L295.36 216.99 L295.90 217.02 L296.43 217.05 L296.96 217.07 L297.50 217.10 L298.03 217.12 L298.56 217.15 L299.10 217.17 L299.63 217.20 L300.16 217.22 L300.70 217.25 L301.23 217.27 L301.76 217.30 L302.30 217.32 L302.83 217.35 L303.36 217.37 L303.90 217.40 L304.43 217.42 L304.96 217.45 L305.50 217.47 L306.03 217.49 L306.56 217.52 L307.10 217.54 L307.63 217.57 L308.16 217.59 L308.70 217.61 L309.23 217.64 L309.76 217.66 L310.30 217.68 L310.83 217.71 L311.36 217.73 L311.90 217.75 L312.43 217.78 L312.96 217.80 L313.50 217.82 L314.03 217.84 L314.56 217.87 L315.10 217.89 L315.63 217.91 L316.16 217.93 L316.70 217.96 L317.23 217.98 L317.76 218.00 L318.30 218.02 L318.83 218.04 L319.36 218.07 L319.90 218.09 L320.43 218.11 L320.96 218.13 L321.50 218.15 L322.03 218.17 L322.56 218.20 L323.10 218.22 L323.63 218.24 L324.16 218.26 L324.70 218.28 L325.23 218.30 L325.76 218.32 L326.30 218.34 L326.83 218.36 L327.36 218.38 L327.90 218.41 L328.43 218.43 L328.96 218.45 L329.50 218.47 L330.03 218.49 L330.56 218.51 L331.10 218.53 L331.63 218.55 L332.16 218.57 L332.70 218.59 L333.23 218.61 L333.76 218.63 L334.30 218.65 L334.83 218.67 L335.36 218.69 L335.90 218.71 L336.43 218.73 L336.96 218.74 L337.50 218.76 L338.03 218.78 L338.56 218.80 L339.10 218.82 L339.63 218.84 L340.16 218.86 L340.70 218.88 L341.23 218.90 L341.76 218.92 L342.30 218.94 L342.83 218.95 L343.36 218.97 L343.90 218.99 L344.43 219.01 L344.96 219.03 L345.50 219.05 L346.03 219.07 L346.56 219.08 L347.10 219.10 L347.63 219.12 L348.16 219.14 L348.70 219.16 L349.23 219.17 L349.76 219.19 L350.30 219.21 L350.83 219.23 L351.98 219.27" fill="none" stroke="#EB6235" stroke-width="2.3" stroke-linejoin="round" stroke-linecap="butt" clip-path="url(#cl)"/>
<path d="M29.68 41.00 L30.83 41.00 L31.36 41.00 L31.90 41.00 L32.43 41.00 L32.96 41.00 L33.50 41.00 L34.03 41.00 L34.56 41.00 L35.10 41.00 L35.63 41.00 L36.16 41.00 L36.70 41.01 L37.23 41.02 L37.76 41.04 L38.30 41.08 L38.83 41.14 L39.36 41.24 L39.90 41.37 L40.43 41.55 L40.96 41.79 L41.50 42.15 L42.03 42.60 L42.56 43.11 L43.10 43.70 L43.63 44.37 L44.16 45.11 L44.70 45.93 L45.23 46.82 L45.76 47.79 L46.30 48.84 L46.83 50.00 L47.36 51.22 L47.90 52.50 L48.43 53.84 L48.96 55.22 L49.50 56.65 L50.03 58.12 L50.56 59.44 L51.10 60.79 L51.63 62.18 L52.16 63.59 L52.70 65.02 L53.23 66.47 L53.76 67.94 L54.30 69.42 L54.83 70.91 L55.36 72.41 L55.90 73.92 L56.43 75.43 L56.96 76.95 L57.50 78.45 L58.03 79.96 L58.56 81.45 L59.10 82.94 L59.63 84.42 L60.16 85.89 L60.70 87.35 L61.23 88.79 L61.76 90.22 L62.30 91.64 L62.83 93.04 L63.36 94.49 L63.90 95.92 L64.43 97.33 L64.96 98.73 L65.50 100.10 L66.03 101.46 L66.56 102.80 L67.10 104.12 L67.63 105.42 L68.16 106.71 L68.70 107.97 L69.23 109.22 L69.76 110.45 L70.30 111.66 L70.83 112.85 L71.36 114.02 L71.90 115.18 L72.43 116.31 L72.96 117.43 L73.50 118.53 L74.03 119.62 L74.56 120.69 L75.10 121.74 L75.63 122.77 L76.16 123.79 L76.70 124.80 L77.23 125.78 L77.76 126.76 L78.30 127.71 L78.83 128.66 L79.36 129.58 L79.90 130.50 L80.43 131.39 L80.96 132.28 L81.50 133.15 L82.03 134.01 L82.56 134.85 L83.10 135.69 L83.63 136.51 L84.16 137.31 L84.70 138.11 L85.23 138.89 L85.76 139.67 L86.30 140.43 L86.83 141.18 L87.36 141.92 L87.90 142.64 L88.43 143.36 L88.96 144.06 L89.50 144.75 L90.03 145.43 L90.56 146.10 L91.10 146.76 L91.63 147.41 L92.16 148.05 L92.70 148.68 L93.23 149.31 L93.76 149.92 L94.30 150.53 L94.83 151.13 L95.36 151.72 L95.90 152.30 L96.43 152.87 L96.96 153.44 L97.50 154.00 L98.03 154.55 L98.56 155.10 L99.10 155.64 L99.63 156.17 L100.16 156.69 L100.70 157.21 L101.23 157.72 L101.76 158.22 L102.30 158.72 L102.83 159.21 L103.36 159.70 L103.90 160.18 L104.43 160.65 L104.96 161.12 L105.50 161.58 L106.03 162.04 L106.56 162.49 L107.10 162.93 L107.63 163.37 L108.16 163.81 L108.70 164.24 L109.23 164.66 L109.76 165.08 L110.30 165.50 L110.83 165.91 L111.36 166.31 L111.90 166.71 L112.43 167.11 L112.96 167.50 L113.50 167.89 L114.03 168.27 L114.56 168.65 L115.10 169.02 L115.63 169.39 L116.16 169.75 L116.70 170.12 L117.23 170.47 L117.76 170.83 L118.30 171.18 L118.83 171.52 L119.36 171.86 L119.90 172.20 L120.43 172.54 L120.96 172.86 L121.50 173.19 L122.03 173.51 L122.56 173.82 L123.10 174.14 L123.63 174.45 L124.16 174.75 L124.70 175.06 L125.23 175.36 L125.76 175.66 L126.30 175.95 L126.83 176.24 L127.36 176.53 L127.90 176.82 L128.43 177.10 L128.96 177.38 L129.50 177.66 L130.03 177.93 L130.56 178.20 L131.10 178.47 L131.63 178.74 L132.16 179.00 L132.70 179.26 L133.23 179.52 L133.76 179.78 L134.30 180.03 L134.83 180.28 L135.36 180.53 L135.90 180.78 L136.43 181.02 L136.96 181.26 L137.50 181.50 L138.03 181.74 L138.56 181.97 L139.10 182.21 L139.63 182.44 L140.16 182.66 L140.70 182.89 L141.23 183.12 L141.76 183.34 L142.30 183.56 L142.83 183.78 L143.36 183.99 L143.90 184.21 L144.43 184.42 L144.96 184.63 L145.50 184.84 L146.03 185.04 L146.56 185.25 L147.10 185.45 L147.63 185.65 L148.16 185.85 L148.70 186.05 L149.23 186.25 L149.76 186.44 L150.30 186.63 L150.83 186.83 L151.36 187.01 L151.90 187.20 L152.43 187.39 L152.96 187.57 L153.50 187.76 L154.03 187.94 L154.56 188.12 L155.10 188.30 L155.63 188.47 L156.16 188.65 L156.70 188.82 L157.23 188.99 L157.76 189.16 L158.30 189.33 L158.83 189.50 L159.36 189.67 L159.90 189.84 L160.43 190.00 L160.96 190.17 L161.50 190.33 L162.03 190.49 L162.56 190.65 L163.10 190.81 L163.63 190.97 L164.16 191.12 L164.70 191.28 L165.23 191.43 L165.76 191.58 L166.30 191.74 L166.83 191.89 L167.36 192.04 L167.90 192.18 L168.43 192.33 L168.96 192.48 L169.50 192.62 L170.03 192.76 L170.56 192.91 L171.10 193.05 L171.63 193.19 L172.16 193.33 L172.70 193.46 L173.23 193.60 L173.76 193.74 L174.30 193.87 L174.83 194.00 L175.36 194.14 L175.90 194.27 L176.43 194.40 L176.96 194.53 L177.50 194.66 L178.03 194.79 L178.56 194.91 L179.10 195.04 L179.63 195.16 L180.16 195.29 L180.70 195.41 L181.23 195.53 L181.76 195.66 L182.30 195.78 L182.83 195.90 L183.36 196.02 L183.90 196.13 L184.43 196.25 L184.96 196.37 L185.50 196.48 L186.03 196.60 L186.56 196.71 L187.10 196.83 L187.63 196.94 L188.16 197.05 L188.70 197.16 L189.23 197.27 L189.76 197.38 L190.30 197.49 L190.83 197.60 L191.36 197.70 L191.90 197.81 L192.43 197.92 L192.96 198.02 L193.50 198.13 L194.03 198.23 L194.56 198.33 L195.10 198.43 L195.63 198.54 L196.16 198.64 L196.70 198.74 L197.23 198.84 L197.76 198.93 L198.30 199.03 L198.83 199.13 L199.36 199.23 L199.90 199.32 L200.43 199.42 L200.96 199.51 L201.50 199.61 L202.03 199.70 L202.56 199.80 L203.10 199.89 L203.63 199.98 L204.16 200.07 L204.70 200.16 L205.23 200.25 L205.76 200.34 L206.30 200.43 L206.83 200.52 L207.36 200.61 L207.90 200.70 L208.43 200.78 L208.96 200.87 L209.50 200.96 L210.03 201.04 L210.56 201.13 L211.10 201.21 L211.63 201.30 L212.16 201.38 L212.70 201.46 L213.23 201.54 L213.76 201.63 L214.30 201.71 L214.83 201.79 L215.36 201.87 L215.90 201.95 L216.43 202.03 L216.96 202.11 L217.50 202.19 L218.03 202.26 L218.56 202.34 L219.10 202.42 L219.63 202.50 L220.16 202.57 L220.70 202.65 L221.23 202.72 L221.76 202.80 L222.30 202.87 L222.83 202.95 L223.36 203.02 L223.90 203.10 L224.43 203.17 L224.96 203.24 L225.50 203.32 L226.03 203.39 L226.56 203.46 L227.10 203.53 L227.63 203.60 L228.16 203.67 L228.70 203.74 L229.23 203.81 L229.76 203.88 L230.30 203.95 L230.83 204.02 L231.36 204.09 L231.90 204.16 L232.43 204.23 L232.96 204.29 L233.50 204.36 L234.03 204.43 L234.56 204.49 L235.10 204.56 L235.63 204.63 L236.16 204.69 L236.70 204.76 L237.23 204.82 L237.76 204.89 L238.30 204.95 L238.83 205.01 L239.36 205.08 L239.90 205.14 L240.43 205.20 L240.96 205.27 L241.50 205.33 L242.03 205.39 L242.56 205.45 L243.10 205.51 L243.63 205.57 L244.16 205.63 L244.70 205.69 L245.23 205.75 L245.76 205.81 L246.30 205.87 L246.83 205.93 L247.36 205.99 L247.90 206.05 L248.43 206.11 L248.96 206.16 L249.50 206.22 L250.03 206.28 L250.56 206.34 L251.10 206.39 L251.63 206.45 L252.16 206.50 L252.70 206.56 L253.23 206.62 L253.76 206.67 L254.30 206.73 L254.83 206.78 L255.36 206.84 L255.90 206.89 L256.43 206.94 L256.96 207.00 L257.50 207.05 L258.03 207.11 L258.56 207.16 L259.10 207.21 L259.63 207.26 L260.16 207.32 L260.70 207.37 L261.23 207.42 L261.76 207.47 L262.30 207.52 L262.83 207.57 L263.36 207.62 L263.90 207.68 L264.43 207.73 L264.96 207.78 L265.50 207.83 L266.03 207.88 L266.56 207.93 L267.10 207.97 L267.63 208.02 L268.16 208.07 L268.70 208.12 L269.23 208.17 L269.76 208.22 L270.30 208.27 L270.83 208.31 L271.36 208.36 L271.90 208.41 L272.43 208.46 L272.96 208.50 L273.50 208.55 L274.03 208.60 L274.56 208.64 L275.10 208.69 L275.63 208.73 L276.16 208.78 L276.70 208.83 L277.23 208.87 L277.76 208.92 L278.30 208.96 L278.83 209.01 L279.36 209.05 L279.90 209.09 L280.43 209.14 L280.96 209.18 L281.50 209.23 L282.03 209.27 L282.56 209.31 L283.10 209.36 L283.63 209.40 L284.16 209.44 L284.70 209.49 L285.23 209.53 L285.76 209.57 L286.30 209.61 L286.83 209.65 L287.36 209.70 L287.90 209.74 L288.43 209.78 L288.96 209.82 L289.50 209.86 L290.03 209.90 L290.56 209.94 L291.10 209.98 L291.63 210.02 L292.16 210.06 L292.70 210.11 L293.23 210.15 L293.76 210.18 L294.30 210.22 L294.83 210.26 L295.36 210.30 L295.90 210.34 L296.43 210.38 L296.96 210.42 L297.50 210.46 L298.03 210.50 L298.56 210.54 L299.10 210.57 L299.63 210.61 L300.16 210.65 L300.70 210.69 L301.23 210.73 L301.76 210.76 L302.30 210.80 L302.83 210.84 L303.36 210.88 L303.90 210.91 L304.43 210.95 L304.96 210.99 L305.50 211.02 L306.03 211.06 L306.56 211.09 L307.10 211.13 L307.63 211.17 L308.16 211.20 L308.70 211.24 L309.23 211.27 L309.76 211.31 L310.30 211.34 L310.83 211.38 L311.36 211.41 L311.90 211.45 L312.43 211.48 L312.96 211.52 L313.50 211.55 L314.03 211.59 L314.56 211.62 L315.10 211.66 L315.63 211.69 L316.16 211.72 L316.70 211.76 L317.23 211.79 L317.76 211.83 L318.30 211.86 L318.83 211.89 L319.36 211.92 L319.90 211.96 L320.43 211.99 L320.96 212.02 L321.50 212.06 L322.03 212.09 L322.56 212.12 L323.10 212.15 L323.63 212.19 L324.16 212.22 L324.70 212.25 L325.23 212.28 L325.76 212.31 L326.30 212.34 L326.83 212.38 L327.36 212.41 L327.90 212.44 L328.43 212.47 L328.96 212.50 L329.50 212.53 L330.03 212.56 L330.56 212.59 L331.10 212.62 L331.63 212.65 L332.16 212.68 L332.70 212.71 L333.23 212.75 L333.76 212.78 L334.30 212.81 L334.83 212.83 L335.36 212.86 L335.90 212.89 L336.43 212.92 L336.96 212.95 L337.50 212.98 L338.03 213.01 L338.56 213.04 L339.10 213.07 L339.63 213.10 L340.16 213.13 L340.70 213.16 L341.23 213.19 L341.76 213.21 L342.30 213.24 L342.83 213.27 L343.36 213.30 L343.90 213.33 L344.43 213.36 L344.96 213.38 L345.50 213.41 L346.03 213.44 L346.56 213.47 L347.10 213.49 L347.63 213.52 L348.16 213.55 L348.70 213.58 L349.23 213.60 L349.76 213.63 L350.30 213.66 L350.83 213.68 L351.98 213.74" fill="none" stroke="#8778B3" stroke-width="2.3" stroke-linejoin="round" stroke-linecap="butt"/>
<g stroke="#000" stroke-width="1.25" fill="none">
<line x1="24" y1="229.9" x2="357.8" y2="229.9"/>
<line x1="30.8" y1="31.0" x2="30.8" y2="236.7"/>
</g><g stroke="#222" stroke-width="0.8" fill="none">
<line x1="43.63" y1="229.9" x2="43.63" y2="227.30"/>
<line x1="56.43" y1="229.9" x2="56.43" y2="227.30"/>
<line x1="69.23" y1="229.9" x2="69.23" y2="227.30"/>
<line x1="82.03" y1="229.9" x2="82.03" y2="227.30"/>
<line x1="94.83" y1="229.9" x2="94.83" y2="225.80"/>
<line x1="107.63" y1="229.9" x2="107.63" y2="227.30"/>
<line x1="120.43" y1="229.9" x2="120.43" y2="227.30"/>
<line x1="133.23" y1="229.9" x2="133.23" y2="227.30"/>
<line x1="146.03" y1="229.9" x2="146.03" y2="227.30"/>
<line x1="158.83" y1="229.9" x2="158.83" y2="225.80"/>
<line x1="171.63" y1="229.9" x2="171.63" y2="227.30"/>
<line x1="184.43" y1="229.9" x2="184.43" y2="227.30"/>
<line x1="197.23" y1="229.9" x2="197.23" y2="227.30"/>
<line x1="210.03" y1="229.9" x2="210.03" y2="227.30"/>
<line x1="222.83" y1="229.9" x2="222.83" y2="225.80"/>
<line x1="235.63" y1="229.9" x2="235.63" y2="227.30"/>
<line x1="248.43" y1="229.9" x2="248.43" y2="227.30"/>
<line x1="261.23" y1="229.9" x2="261.23" y2="227.30"/>
<line x1="274.03" y1="229.9" x2="274.03" y2="227.30"/>
<line x1="286.83" y1="229.9" x2="286.83" y2="225.80"/>
<line x1="299.63" y1="229.9" x2="299.63" y2="227.30"/>
<line x1="312.43" y1="229.9" x2="312.43" y2="227.30"/>
<line x1="325.23" y1="229.9" x2="325.23" y2="227.30"/>
<line x1="338.03" y1="229.9" x2="338.03" y2="227.30"/>
<line x1="350.83" y1="229.9" x2="350.83" y2="225.80"/>
<line x1="30.8" y1="220.46" x2="33.40" y2="220.46"/>
<line x1="30.8" y1="211.01" x2="33.40" y2="211.01"/>
<line x1="30.8" y1="201.56" x2="33.40" y2="201.56"/>
<line x1="30.8" y1="192.12" x2="33.40" y2="192.12"/>
<line x1="30.8" y1="182.68" x2="34.90" y2="182.68"/>
<line x1="30.8" y1="173.23" x2="33.40" y2="173.23"/>
<line x1="30.8" y1="163.78" x2="33.40" y2="163.78"/>
<line x1="30.8" y1="154.34" x2="33.40" y2="154.34"/>
<line x1="30.8" y1="144.89" x2="33.40" y2="144.89"/>
<line x1="30.8" y1="135.45" x2="34.90" y2="135.45"/>
<line x1="30.8" y1="126.00" x2="33.40" y2="126.00"/>
<line x1="30.8" y1="116.56" x2="33.40" y2="116.56"/>
<line x1="30.8" y1="107.11" x2="33.40" y2="107.11"/>
<line x1="30.8" y1="97.67" x2="33.40" y2="97.67"/>
<line x1="30.8" y1="88.22" x2="34.90" y2="88.22"/>
<line x1="30.8" y1="78.78" x2="33.40" y2="78.78"/>
<line x1="30.8" y1="69.33" x2="33.40" y2="69.33"/>
<line x1="30.8" y1="59.89" x2="33.40" y2="59.89"/>
<line x1="30.8" y1="50.44" x2="33.40" y2="50.44"/>
<line x1="30.8" y1="41.00" x2="34.90" y2="41.00"/>
<line x1="30.8" y1="31.55" x2="33.40" y2="31.55"/>
</g>
<line x1="246.7" y1="69.1" x2="266.9" y2="69.1" stroke="#5E81B5" stroke-width="2.1"/>
<clipPath id="c1"><path d="M295.60 60.85 H309.60 V73.25 H302.60 L302.30 75.15 H300.52 L300.82 73.25 H295.60 Z"/></clipPath>
<text x="276.80 288.05" y="74.8" font-family="Liberation Sans" font-style="italic" font-size="15.5" fill="#000" stroke="#000" stroke-width="0.3">B=</text>
<text x="297.60" y="74.8" font-family="Liberation Sans" font-style="italic" font-size="15.5" fill="#000" stroke="#000" stroke-width="0.3" clip-path="url(#c1)">1</text>
<line x1="246.7" y1="95.6" x2="266.9" y2="95.6" stroke="#E19C24" stroke-width="2.1"/>
<text x="276.80 288.05 297.60" y="101.3" font-family="Liberation Sans" font-style="italic" font-size="15.5" fill="#000" stroke="#000" stroke-width="0.3">B=2</text>
<line x1="246.7" y1="122.1" x2="266.9" y2="122.1" stroke="#8FB032" stroke-width="2.1"/>
<text x="276.80 288.05 297.60" y="127.8" font-family="Liberation Sans" font-style="italic" font-size="15.5" fill="#000" stroke="#000" stroke-width="0.3">B=3</text>
<line x1="246.7" y1="148.6" x2="266.9" y2="148.6" stroke="#EB6235" stroke-width="2.1"/>
<text x="276.80 288.05 297.60" y="154.3" font-family="Liberation Sans" font-style="italic" font-size="15.5" fill="#000" stroke="#000" stroke-width="0.3">B=5</text>
<line x1="246.7" y1="175.1" x2="266.9" y2="175.1" stroke="#8778B3" stroke-width="2.1"/>
<text x="276.80 288.05 297.60" y="180.8" font-family="Liberation Sans" font-style="italic" font-size="15.5" fill="#000" stroke="#000" stroke-width="0.3">B=8</text>
<text x="0.20 10.83 16.28" y="48.15" font-family="Liberation Serif" font-size="23.5" fill="#000">2.0</text>
<text x="0.92 10.91 15.89" y="95.60" font-family="Liberation Serif" font-size="23.5" fill="#000">1.5</text>
<text x="0.92 11.08 16.49" y="142.70" font-family="Liberation Serif" font-size="23.5" fill="#000">1.0</text>
<text x="0.22 10.91 15.94" y="189.60" font-family="Liberation Serif" font-size="23.5" fill="#000">0.5</text>
<text x="83.14 94.88" y="251.7" font-family="Liberation Serif" font-size="23.5" fill="#000">10</text>
<text x="147.38 158.98" y="251.7" font-family="Liberation Serif" font-size="23.5" fill="#000">20</text>
<text x="211.24 222.78" y="251.7" font-family="Liberation Serif" font-size="23.5" fill="#000">30</text>
<text x="275.44 286.83" y="251.7" font-family="Liberation Serif" font-size="23.5" fill="#000">40</text>
<text x="339.09 350.83" y="251.7" font-family="Liberation Serif" font-size="23.5" fill="#000">50</text>
<text transform="translate(11.9 19.4) scale(1 1.04)" x="0" y="0" font-family="Liberation Serif" font-size="22.1" fill="#000">SCn</text>
<text x="366.3" y="238" font-family="Liberation Serif" font-size="22.8" font-style="italic" font-weight="bold" fill="#000">T</text>
</svg>
</body></html>
